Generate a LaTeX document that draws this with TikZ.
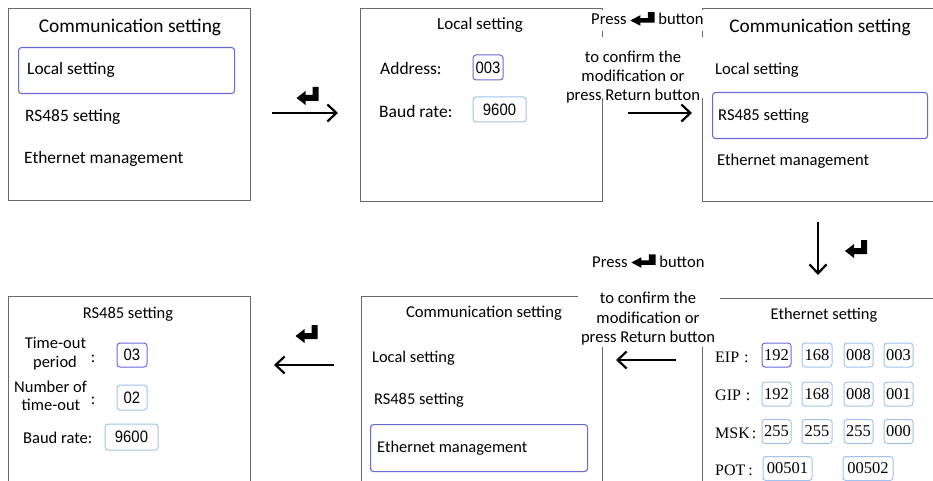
\documentclass[tikz,border=0pt]{standalone}
\usepackage{fontspec}
\setmainfont{Carlito}
\newfontfamily\numf[FakeStretch=0.9]{Liberation Sans}
\newfontfamily\serf{Liberation Serif}
\usetikzlibrary{arrows.meta}
\definecolor{framec}{RGB}{105,105,105}
\definecolor{selc}{RGB}{105,105,215}
\definecolor{fldc}{RGB}{160,195,238}
\newcommand\fs[1]{\fontsize{#1}{#1}\selectfont}
\newcommand\ent[2]{\tikz[x=#1pt,y=#2pt,baseline=0pt]\fill[black,draw=none] (0,17)--(0,3)--(-13,3)--(-13,-1)--(-22,6)--(-13,13)--(-13,9)--(-6,9)--(-6,17)--cycle;}
\begin{document}
\begin{tikzpicture}[x=1pt,y=-1pt,
  scr/.style={draw=framec,line width=1pt,inner sep=0pt,anchor=north west},
  sel/.style={draw=selc,line width=1.1pt,rounded corners=3pt,inner sep=0pt,anchor=north west},
  fld/.style={draw=fldc,line width=1pt,rounded corners=3pt,inner sep=0pt,font=\numf\fs{16.5}},
  fsel/.style={fld,draw=selc},
  efld/.style={fld,font=\serf\fs{16.5},minimum height=24pt},
  efsel/.style={efld,draw=selc},
  lbl/.style={inner sep=0pt,anchor=base west},
  ctr/.style={inner sep=0pt,anchor=base},
  elbl/.style={lbl,font=\serf\fs{16}},
  arr/.style={line width=2.2pt,-{Straight Barb[length=9pt,width=17pt]}},
  glyph/.style={inner sep=0pt}
]
\useasboundingbox (0,0) rectangle (933,481);
\clip (0,0) rectangle (933,481);

% ---------- screens ----------
\node[scr,minimum width=242pt,minimum height=192pt] (s1) at (8,8) {};
\node[scr,minimum width=242pt,minimum height=193pt] (s2) at (360,8) {};
\node[scr,minimum width=300pt,minimum height=193pt] (s3) at (702,8) {};
\node[scr,minimum width=242pt,minimum height=250pt] (s4) at (8,296) {};
\node[scr,minimum width=241pt,minimum height=250pt] (s5) at (361,296) {};
\node[scr,minimum width=300pt,minimum height=250pt] (s6) at (702,298) {};

% occluders behind the callout texts
\fill[white] (586,10) rectangle (706,31);
\fill[white] (586,37) rectangle (706,98);
\fill[white] (578,286) rectangle (720,347);

% ---------- screen 1 ----------
\node[ctr,font=\fs{19.4}] (t1) at (130,33) {Communication setting};
\node[sel,minimum width=216pt,minimum height=46pt] (h1) at (18,47) {};
\node[lbl,font=\fs{17.4}] (i11) at (27,75) {Local setting};
\node[lbl,font=\fs{17.4}] (i12) at (25,122) {RS485 setting};
\node[lbl,font=\fs{17.4}] (i13) at (24,164) {Ethernet management};

% ---------- screen 2 ----------
\node[ctr,font=\fs{17}] (t2) at (480,30) {Local setting};
\node[lbl,font=\fs{17.5}] (l21) at (380,75) {Address:};
\node[lbl,font=\fs{17.5}] (l22) at (379,118) {Baud rate:};
\node[fsel,minimum width=30pt,minimum height=25pt] (f21) at (488,67.5) {003};
\node[fld,minimum width=53pt,minimum height=25pt] (f22) at (499.5,109.5) {9600};

% ---------- screen 3 ----------
\node[ctr,font=\fs{19.3}] (t3) at (820,33) {Communication setting};
\node[lbl,font=\fs{16.6}] (i31) at (715,75) {Local setting};
\node[sel,minimum width=215pt,minimum height=46pt] (h3) at (712,92) {};
\node[lbl,font=\fs{16.6}] (i32) at (718,121) {RS485 setting};
\node[lbl,font=\fs{16.6}] (i33) at (717,166) {Ethernet management};

% ---------- screen 4 ----------
\node[ctr,font=\fs{16.5}] (t4) at (128,318) {RS485 setting};
\node[ctr,font=\fs{16.5}] (l41a) at (55.5,348) {Time-out};
\node[ctr,font=\fs{16.5}] (l41b) at (55,367) {period};
\node[ctr,font=\fs{16.5}] (c41) at (93,362) {:};
\node[ctr,font=\fs{16.5}] (l42a) at (50.5,392) {Number of};
\node[ctr,font=\fs{16.5}] (l42b) at (51,410) {time-out};
\node[ctr,font=\fs{16.5}] (c42) at (93,404) {:};
\node[lbl,font=\fs{16.5}] (l43) at (23,443) {Baud rate:};
\node[fsel,minimum width=30pt,minimum height=24pt] (f41) at (132,355) {03};
\node[fld,minimum width=30pt,minimum height=25pt] (f42) at (132,397.5) {02};
\node[fld,minimum width=53pt,minimum height=26pt] (f43) at (131.5,437) {9600};

% ---------- screen 5 ----------
\node[ctr,font=\fs{16.6}] (t5) at (484,317) {Communication setting};
\node[lbl,font=\fs{16.4}] (i51) at (372,362) {Local setting};
\node[lbl,font=\fs{16.4}] (i52) at (374,404) {RS485 setting};
\node[sel,minimum width=217pt,minimum height=47pt] (h5) at (370,424) {};
\node[lbl,font=\fs{16.4}] (i53) at (377,452) {Ethernet management};

% ---------- screen 6 ----------
\node[ctr,font=\fs{16.4}] (t6) at (824,319) {Ethernet setting};
\node[elbl] (e1) at (715,362) {EIP\hspace{5pt}:};
\node[elbl] (e2) at (715,400) {GIP\hspace{5pt}:};
\node[elbl] (e3) at (715,438) {MSK\hspace{2pt}:};
\node[elbl] (e4) at (715,475) {POT\hspace{3pt}:};
\node[efsel,minimum width=29pt] (f611) at (776.5,355) {192};
\node[efld,minimum width=30pt] (f612) at (817,355) {168};
\node[efld,minimum width=29pt] (f613) at (858.5,355) {008};
\node[efld,minimum width=29pt] (f614) at (898.5,355) {003};
\node[efld,minimum width=29pt] (f621) at (776.5,394) {192};
\node[efld,minimum width=30pt] (f622) at (817,394) {168};
\node[efld,minimum width=29pt] (f623) at (858.5,394) {008};
\node[efld,minimum width=29pt] (f624) at (898.5,394) {001};
\node[efld,minimum width=29pt] (f631) at (776.5,431.5) {255};
\node[efld,minimum width=30pt] (f632) at (817,431.5) {255};
\node[efld,minimum width=29pt] (f633) at (858.5,431.5) {255};
\node[efld,minimum width=29pt] (f634) at (898.5,431.5) {000};
\node[efld,minimum width=49pt] (f641) at (787.5,468.5) {00501};
\node[efld,minimum width=50pt] (f642) at (868,468.5) {00502};

% ---------- callouts ----------
\node[lbl,font=\fs{16.6}] (p1) at (591,25) {Press \ent{1.1}{0.75}\ button};
\node[ctr,font=\fs{16.6}] (p1a) at (633,63) {to confirm the};
\node[ctr,font=\fs{16.6}] (p1b) at (633,82) {modification or};
\node[ctr,font=\fs{16.6}] (p1c) at (633,101) {press Return button};

\node[lbl,font=\fs{16.6}] (p2) at (592,267) {Press \ent{1.1}{0.75}\ button};
\node[ctr,font=\fs{16.6}] (p2a) at (648,303) {to confirm the};
\node[ctr,font=\fs{16.6}] (p2b) at (648,323) {modification or};
\node[ctr,font=\fs{16.6}] (p2c) at (648,342) {press Return button};

% ---------- enter glyphs ----------
\node[glyph] (g1) at (307.5,96) {\ent{1}{1}};
\node[glyph] (g2) at (856,249) {\ent{1}{1}};
\node[glyph] (g3) at (306.5,334) {\ent{1}{1}};

% ---------- arrows ----------
\coordinate (a1s) at (272,113); \coordinate (a1e) at (338,113);
\coordinate (a2s) at (628,113); \coordinate (a2e) at (692,113);
\coordinate (a3s) at (818,222); \coordinate (a3e) at (818,275);
\coordinate (a4s) at (676,360); \coordinate (a4e) at (616,360);
\coordinate (a5s) at (334,365); \coordinate (a5e) at (274,365);
\draw[arr] (a1s) -- (a1e);
\draw[arr] (a2s) -- (a2e);
\draw[arr] (a3s) -- (a3e);
\draw[arr] (a4s) -- (a4e);
\draw[arr] (a5s) -- (a5e);
\end{tikzpicture}
\end{document}
